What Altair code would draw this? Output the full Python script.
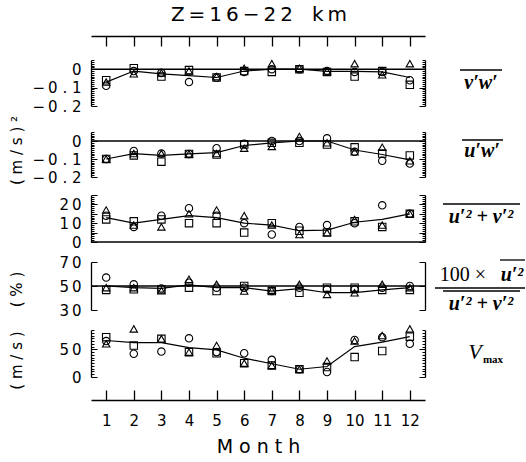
import altair as alt
import pandas as pd

months = list(range(1, 13))
series_names = ["circle", "square", "triangle"]

# Panel 1: v'w'  (m/s)^2
vw_circle = [-0.09, -0.01, -0.02, -0.07, -0.045, -0.015, 0.0, 0.0, -0.01, -0.015, -0.015, -0.06]
vw_square = [-0.06, 0.005, -0.04, -0.005, -0.045, -0.01, -0.015, 0.0, -0.015, -0.04, -0.01, -0.085]
vw_triangle = [-0.07, -0.025, -0.02, -0.01, -0.04, 0.005, 0.03, 0.005, -0.01, 0.03, -0.03, 0.03]
vw_line = [-0.07, -0.01, -0.025, -0.035, -0.045, -0.01, 0.0, 0.0, -0.012, -0.012, -0.015, -0.045]

# Panel 2: u'w'  (m/s)^2
uw_circle = [-0.10, -0.055, -0.07, -0.072, -0.04, -0.015, 0.0, 0.0, 0.015, -0.06, -0.11, -0.125]
uw_square = [-0.10, -0.08, -0.115, -0.072, -0.075, -0.02, -0.01, -0.01, -0.02, -0.035, -0.07, -0.08]
uw_triangle = [-0.10, -0.07, -0.07, -0.072, -0.07, -0.04, -0.03, 0.025, -0.01, -0.06, -0.035, -0.11]
uw_line = [-0.10, -0.07, -0.08, -0.072, -0.065, -0.025, -0.01, 0.0, 0.0, -0.05, -0.075, -0.105]

# Panel 3: u'^2 + v'^2
ke_circle = [14, 8, 14, 18, 14, 10, 4, 8, 9, 10, 19.5, 15]
ke_square = [12, 11, 12, 10, 10, 5, 10, 6, 5, 11, 8, 15]
ke_triangle = [17, 9, 8, 15, 17, 14, 9, 4, 5, 12, 9, 15]
ke_line = [13, 10, 12, 14, 13, 10, 9, 6, 6.3, 10.5, 12, 15]

# Panel 4: 100 u'^2/(u'^2+v'^2)  (%)
pc_circle = [57, 51.4, 48, 52.8, 48.6, 48.6, 45.8, 48.6, 47.2, 47.2, 48.6, 50]
pc_square = [46.7, 47.2, 47, 48.6, 45.8, 50, 45.8, 44.4, 48.6, 48.6, 46.7, 46.7]
pc_triangle = [48.6, 48.6, 46, 55.6, 51.4, 45.8, 46.5, 51.4, 43, 44.4, 51.4, 48.6]
pc_line = [50, 48.6, 48, 51, 48.6, 48.6, 45.8, 47.8, 44.4, 44.4, 46.7, 48.6]

# Panel 5: Vmax (m/s)
vm_circle = [65, 42, 46, 70, 45, 43, 31, 14, 9, 67, 72, 60]
vm_square = [72, 57, 69, 45, 43, 25, 21, 14, 18, 36, 47, 73]
vm_triangle = [60, 87, 69, 45, 57, 25, 21, 14, 29, 65, 75, 87]
vm_line = [66, 62, 62, 53, 49, 34, 24, 14, 19, 55, 63, 73]

# tick values / labels
flux_ticks = [0, -0.1, -0.2]
flux_tick_labels = ["0", "\u2212\u20090 . 1", "\u2212\u20090 . 2"]
ke_ticks = [0, 10, 20]
ke_tick_labels = ["0", "1\u20090", "2\u20090"]
pc_ticks = [30, 50, 70]
pc_tick_labels = ["3\u20090", "5\u20090", "7\u20090"]
vm_ticks = [0, 50]
vm_tick_labels = ["0", "5\u20090"]
flux_minor = [round(-0.2 + 0.01 * i, 2) for i in range(26)]
ke_minor = list(range(0, 26))
pc_minor = [30, 50, 70]
vm_minor = list(range(0, 86, 5))

TITLE = "Z\u2009=\u20091\u20096\u2009\u2212\u20092\u20092\u00a0\u00a0\u00a0k\u2009m"

W = 334
H = 364
LABEL_FONT = "DejaVu Sans"
MATH_FONT = "Liberation Serif"

xs = alt.Scale(domain=[0.45, 12.55], nice=False, zero=False)
dummy = pd.DataFrame({"d": [0]})


def label_expr(vals, texts):
    parts = [f"abs(datum.value - ({v})) < 1e-6 ? '{t}'" for v, t in zip(vals, texts)]
    return " : ".join(parts) + " : ''"


def long_df(c, s, t):
    rows = []
    for m, a, b, d in zip(months, c, s, t):
        rows.append({"month": m, "series": "circle", "value": a})
        rows.append({"month": m, "series": "square", "value": b})
        rows.append({"month": m, "series": "triangle", "value": d})
    return pd.DataFrame(rows)


def panel(line_vals, c, s, t, domain, rng, ticks, tick_labels, minor, major_test,
          title=None, title_y=0, ref=None, x_line=None, x_pts=None):
    ys = alt.Scale(domain=domain, range=rng, nice=False, zero=False)
    line_df = pd.DataFrame({"month": months, "value": line_vals})
    pts_df = long_df(c, s, t)
    label_axis_kw = dict(
        orient="left", values=ticks, labelExpr=label_expr(ticks, tick_labels),
        ticks=False, domain=True, domainColor="black", domainWidth=1.3,
        labelPadding=10, labelFont=LABEL_FONT, labelFontSize=15, labelColor="black",
        grid=False,
    )
    if title:
        label_axis_kw.update(title=title, titleX=-75, titleY=title_y, titleAngle=270,
                             titleBaseline="middle", titleAlign="center",
                             titleFont=LABEL_FONT, titleFontSize=15,
                             titleFontWeight="normal", titleColor="black")
    else:
        label_axis_kw.update(title="")
    tick_size = {"condition": {"test": major_test, "value": 6}, "value": 3}
    inner_left = alt.Axis(orient="right", offset=-W, values=minor, labels=False,
                          domain=False, ticks=True, tickSize=tick_size,
                          tickColor="black", tickWidth=1, grid=False, title="")
    inner_right = alt.Axis(orient="left", offset=-W, values=minor, labels=False,
                           domain=True, domainColor="black", domainWidth=1.3,
                           ticks=True, tickSize=tick_size, tickColor="black",
                           tickWidth=1, grid=False, title="")
    layers = []
    if ref is not None:
        layers.append(alt.Chart(dummy).mark_rule(color="black", strokeWidth=1.4).encode(
            y=alt.YDatum(ref, scale=ys, axis=None)))
    layers.append(alt.Chart(line_df).mark_line(color="black", strokeWidth=1.2).encode(
        x=alt.X("month:Q", scale=xs, axis=x_line),
        y=alt.Y("value:Q", scale=ys, axis=alt.Axis(**label_axis_kw))))
    layers.append(alt.Chart(pts_df).mark_point(filled=False, color="black", size=55,
                                               strokeWidth=1.1, opacity=1).encode(
        x=alt.X("month:Q", scale=xs, axis=x_pts),
        y=alt.Y("value:Q", scale=ys, axis=inner_left),
        shape=alt.Shape("series:N", scale=alt.Scale(domain=series_names,
                                                    range=["circle", "square", "triangle-up"]),
                        legend=None)))
    layers.append(alt.Chart(line_df).mark_line(opacity=0).encode(
        x=alt.X("month:Q", scale=xs, axis=None),
        y=alt.Y("value:Q", scale=ys, axis=inner_right)))
    return layers


top_axis = alt.Axis(orient="bottom", offset=-H, values=months, labels=False, ticks=True,
                    tickSize=10, tickColor="black", tickWidth=1.3, domain=True,
                    domainColor="black", domainWidth=1.3, grid=False, title="")
bottom_axis = alt.Axis(orient="top", offset=-H, values=months, labels=False, ticks=True,
                       tickSize=10, tickColor="black", tickWidth=1.3, domain=True,
                       domainColor="black", domainWidth=1.3, grid=False, title="")
month_axis = alt.Axis(orient="bottom", offset=0, values=months, labels=True, ticks=False,
                      domain=False, grid=False, labelPadding=13, labelFont=LABEL_FONT,
                      labelFontSize=15, labelColor="black", title="M o n t h",
                      titleFont=LABEL_FONT, titleFontSize=19, titleFontWeight="normal",
                      titleColor="black", titlePadding=9)

flux_major = "abs(datum.value * 10 - round(datum.value * 10)) < 0.001"

layers = []
layers += panel(vw_line, vw_circle, vw_square, vw_triangle, [-0.2, 0.05], [70, 24],
                flux_ticks, flux_tick_labels, flux_minor, flux_major, ref=0,
                x_line=top_axis, x_pts=None)
layers += panel(uw_line, uw_circle, uw_square, uw_triangle, [-0.2, 0.05], [141, 96],
                flux_ticks, flux_tick_labels, flux_minor, flux_major,
                title="( m / s ) \u00b2", title_y=114, ref=0)
layers += panel(ke_line, ke_circle, ke_square, ke_triangle, [0, 25], [206, 159],
                ke_ticks, ke_tick_labels, ke_minor, "datum.value % 5 == 0", ref=0)
layers += panel(pc_line, pc_circle, pc_square, pc_triangle, [30, 70], [274, 226],
                pc_ticks, pc_tick_labels, pc_minor, "true",
                title="( % )", title_y=253, ref=50)
layers += panel(vm_line, vm_circle, vm_square, vm_triangle, [0, 85], [341, 294],
                vm_ticks, vm_tick_labels, vm_minor, "datum.value % 50 == 0",
                title="( m / s )", title_y=324, x_line=bottom_axis, x_pts=month_axis)


def label(text, x, y, size=20, style="italic", weight="bold", font=MATH_FONT):
    return alt.Chart(dummy).mark_text(font=font, fontSize=size, fontStyle=style,
                                      fontWeight=weight, color="black", align="center",
                                      baseline="middle").encode(
        x=alt.value(x), y=alt.value(y), text=alt.value(text))


def bar(x1, x2, y):
    return alt.Chart(dummy).mark_rule(color="black", strokeWidth=1.3).encode(
        x=alt.value(x1), x2=alt.value(x2), y=alt.value(y))


layers += [
    label(TITLE, 168, -21, size=20, style="normal", weight="normal", font=LABEL_FONT),
    label("v\u2032w\u2032", 390, 47), bar(369, 411, 34),
    label("u\u2032w\u2032", 391, 115), bar(371, 412, 104),
    label("u\u2032\u00b2 + v\u2032\u00b2", 390, 181), bar(352, 429, 168),
    label("100 \u00d7", 372, 239, style="normal", weight="normal"),
    label("u\u2032\u00b2", 421, 239), bar(409, 434, 224),
    bar(344, 434, 252), bar(352, 429, 255),
    label("u\u2032\u00b2 + v\u2032\u00b2", 390, 268),
    label("V", 384, 316, size=22, weight="normal"),
    label("max", 402, 324, size=11, style="normal", weight="bold"),
]

chart = alt.layer(*layers).resolve_scale(y="independent").resolve_axis(
    x="independent", y="independent"
).properties(
    width=W, height=H,
    autosize=alt.AutoSizeParams(type="none"),
    padding={"left": 91, "top": 36, "right": 101, "bottom": 62},
).configure_view(stroke=None)

chart.save("out.html", embed_options={"renderer": "svg", "actions": False})
